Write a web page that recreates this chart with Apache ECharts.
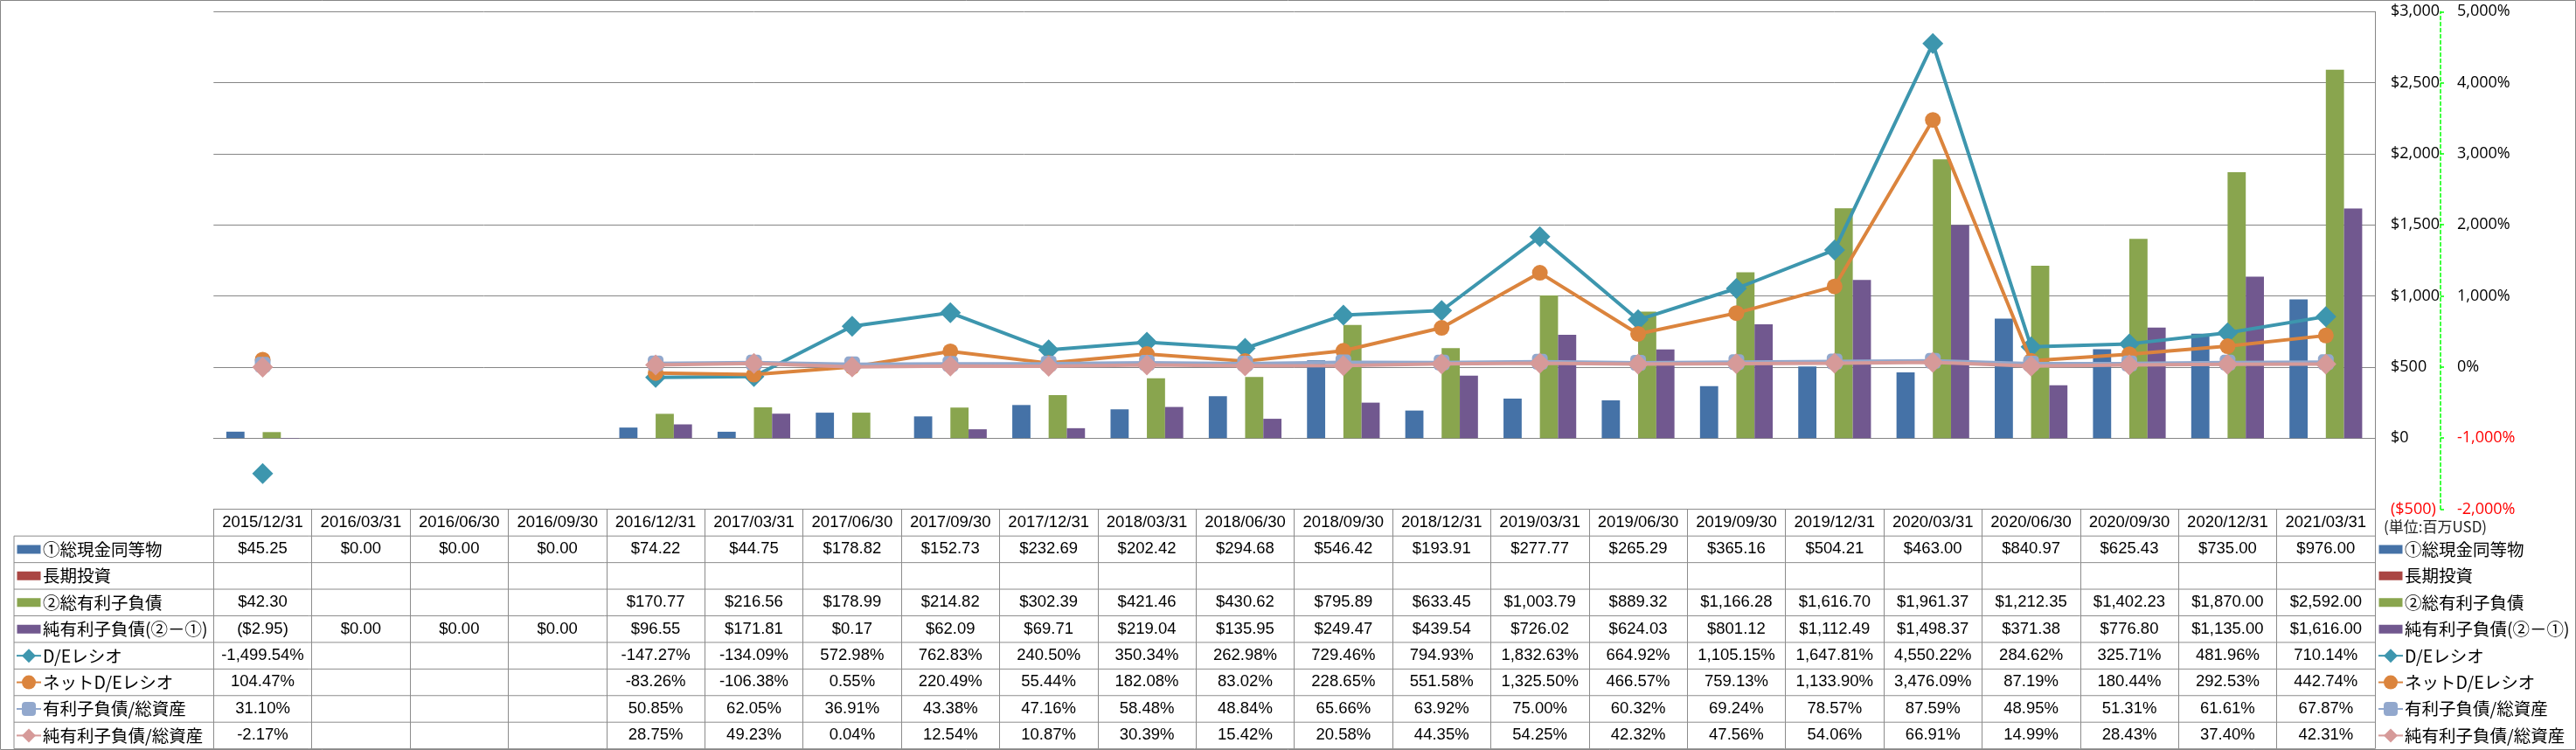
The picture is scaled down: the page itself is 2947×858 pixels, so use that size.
<!DOCTYPE html>
<html><head><meta charset="utf-8">
<script src="https://cdn.jsdelivr.net/npm/echarts@6/dist/echarts.min.js"></script>
<style>html,body{margin:0;padding:0;background:#fff}#c{width:2947px;height:858px}</style>
</head><body><div id="c"></div>
<script>
// ---------- DATA ----------
const categories = ['2015/12/31','2016/03/31','2016/06/30','2016/09/30','2016/12/31','2017/03/31','2017/06/30','2017/09/30','2017/12/31','2018/03/31','2018/06/30','2018/09/30','2018/12/31','2019/03/31','2019/06/30','2019/09/30','2019/12/31','2020/03/31','2020/06/30','2020/09/30','2020/12/31','2021/03/31'];
const seriesNames = ['①総現金同等物','長期投資','②総有利子負債','純有利子負債(②－①)','D/Eレシオ','ネットD/Eレシオ','有利子負債/総資産','純有利子負債/総資産'];
const cash = [45.25,0,0,0,74.22,44.75,178.82,152.73,232.69,202.42,294.68,546.42,193.91,277.77,265.29,365.16,504.21,463.00,840.97,625.43,735.00,976.00];
const longInvest = [null,null,null,null,null,null,null,null,null,null,null,null,null,null,null,null,null,null,null,null,null,null];
const debt = [42.30,null,null,null,170.77,216.56,178.99,214.82,302.39,421.46,430.62,795.89,633.45,1003.79,889.32,1166.28,1616.70,1961.37,1212.35,1402.23,1870.00,2592.00];
const netDebt = [-2.95,0,0,0,96.55,171.81,0.17,62.09,69.71,219.04,135.95,249.47,439.54,726.02,624.03,801.12,1112.49,1498.37,371.38,776.80,1135.00,1616.00];
const deRatio = [-1499.54,null,null,null,-147.27,-134.09,572.98,762.83,240.50,350.34,262.98,729.46,794.93,1832.63,664.92,1105.15,1647.81,4550.22,284.62,325.71,481.96,710.14];
const netDeRatio = [104.47,null,null,null,-83.26,-106.38,0.55,220.49,55.44,182.08,83.02,228.65,551.58,1325.50,466.57,759.13,1133.90,3476.09,87.19,180.44,292.53,442.74];
const debtToAssets = [31.10,null,null,null,50.85,62.05,36.91,43.38,47.16,58.48,48.84,65.66,63.92,75.00,60.32,69.24,78.57,87.59,48.95,51.31,61.61,67.87];
const netDebtToAssets = [-2.17,null,null,null,28.75,49.23,0.04,12.54,10.87,30.39,15.42,20.58,44.35,54.25,42.32,47.56,54.06,66.91,14.99,28.43,37.40,42.31];
const moneyAxis = {min:-500, max:3000, interval:500};
const pctAxis = {min:-2000, max:5000, interval:1000};
const unitLabel = '(単位:百万USD)';

// ---------- LAYOUT / STYLE ----------
const W = 2947, H = 858;
const PLOT_L = 244.3, PLOT_R = 2717, PLOT_T = 13.3, PLOT_B = 582.5;
const ROW_TOP = 613.2, ROW_H = 30.43, NROWS = 8, TABLE_L = 16;
const GRIDC = '#868686', TABLEC = '#8c8c8c';
const colors = ['#4572A7','#AA4643','#89A54E','#71588F','#3D96AE','#DB843D','#92A8CD','#D69A99'];
const CJK = '"Noto Sans CJK JP", "Noto Sans", sans-serif';
const AXF = '"Open Sans", "Noto Sans", sans-serif';
const TBF = '"Liberation Sans", Arial, sans-serif';

function addCommas(s){ return s.replace(/\B(?=(\d{3})+(?!\d))/g, ','); }
function fmt2(v){ const a = Math.abs(v).toFixed(2).split('.'); return addCommas(a[0]) + '.' + a[1]; }
function fmtMoney(v){ if (v == null) return ' '; const s = '$' + fmt2(v); return v < 0 ? '(' + s + ')' : s; }
function fmtPct(v){ if (v == null) return ' '; return (v < 0 ? '-' : '') + fmt2(v) + '%'; }

const tableRows = [
  [cash, fmtMoney],[longInvest, fmtMoney],[debt, fmtMoney],[netDebt, fmtMoney],
  [deRatio, fmtPct],[netDeRatio, fmtPct],[debtToAssets, fmtPct],[netDebtToAssets, fmtPct]
];

const barArrays = [cash, longInvest, debt, netDebt];
const lineArrays = [deRatio, netDeRatio, debtToAssets, netDebtToAssets];
const lineSymbols = ['diamond','circle','roundRect','diamond'];
const lineSymbolSizes = [24,18,18,24];

const series = [];
barArrays.forEach((arr, i) => {
  series.push({
    name: seriesNames[i], type: 'bar', xAxisIndex: 0, yAxisIndex: 0,
    data: arr, barGap: '0%', barCategoryGap: '26%',
    itemStyle: {color: colors[i]}, z: 2
  });
});
lineArrays.forEach((arr, j) => {
  const i = j + 4;
  series.push({
    name: seriesNames[i], type: 'line', xAxisIndex: 0, yAxisIndex: 1,
    data: arr, connectNulls: false, showAllSymbol: true,
    symbol: lineSymbols[j], symbolSize: lineSymbolSizes[j],
    lineStyle: {color: colors[i], width: 4},
    itemStyle: {color: colors[i]}, z: 3 + j
  });
});

const barIcon = 'path://M0,0h0.01M0,20h0.01M0,5h27v10h-27z';
const legendData = seriesNames.map((n, i) => i < 4 ? {name: n, icon: barIcon} : {name: n});
function legendAt(left){
  return {
    orient: 'vertical', left: left, top: ROW_TOP + (ROW_H - 20) / 2, padding: 0,
    itemWidth: 28, itemHeight: 20, itemGap: ROW_H - 20, selectedMode: false,
    textStyle: {fontFamily: CJK, fontSize: 19.5, lineHeight: 20, color: '#000', padding: [0, 0, 0, -3]},
    data: legendData
  };
}

const graphics = [
  {type:'rect', shape:{x:0.5, y:0.5, width:W-1, height:H-1}, style:{fill:'none', stroke:GRIDC, lineWidth:1}, silent:true}
];
for (let k = 0; k <= NROWS; k++) {
  const y = ROW_TOP + k * ROW_H;
  graphics.push({type:'line', shape:{x1:TABLE_L, y1:y, x2:PLOT_R, y2:y}, style:{stroke:TABLEC, lineWidth:1}, silent:true});
}
graphics.push({type:'line', shape:{x1:TABLE_L, y1:ROW_TOP, x2:TABLE_L, y2:ROW_TOP + NROWS*ROW_H}, style:{stroke:TABLEC, lineWidth:1}, silent:true});

const option = {
  animation: false,
  backgroundColor: '#fff',
  title: {text: unitLabel, left: 2727, top: 594, padding: 0,
    textStyle: {fontFamily: CJK, fontSize: 17, fontWeight: 'normal', color: '#222'}},
  grid: {left: PLOT_L, top: PLOT_T, width: PLOT_R - PLOT_L, height: PLOT_B - PLOT_T, containLabel: false},
  legend: [legendAt(18), legendAt(2720)],
  xAxis: [
    {type: 'category', data: categories, position: 'bottom', boundaryGap: true,
     axisLine: {show: true, onZero: true, onZeroAxisIndex: 0, lineStyle: {color: GRIDC, width: 1}},
     axisTick: {show: false}, axisLabel: {show: false}, splitLine: {show: false}},
    {type: 'category', data: categories, position: 'bottom', boundaryGap: true,
     axisLine: {show: true, onZero: false, lineStyle: {color: TABLEC, width: 1}},
     axisTick: {show: true, interval: 0, inside: false, alignWithLabel: false, length: ROW_TOP + NROWS*ROW_H - PLOT_B, lineStyle: {color: TABLEC, width: 1}},
     axisLabel: {show: true, interval: 0, margin: 0, hideOverlap: false,
       fontFamily: TBF, fontSize: 18.5, lineHeight: ROW_H, color: '#000', align: 'center',
       formatter: function (value, idx) {
         const lines = [value];
         tableRows.forEach(r => lines.push(r[1](r[0][idx])));
         return lines.join('\n');
       }},
     splitLine: {show: false}}
  ],
  yAxis: [
    {type: 'value', position: 'right', min: moneyAxis.min, max: moneyAxis.max, interval: moneyAxis.interval,
     axisLine: {show: true, lineStyle: {color: GRIDC, width: 1}},
     axisTick: {show: false},
     splitLine: {show: true, lineStyle: {color: GRIDC, width: 1}},
     axisLabel: {margin: 18, fontFamily: AXF, fontSize: 18, align: 'left',
       color: v => Number(v) < 0 ? '#FF0000' : '#000',
       formatter: v => { const s = '$' + addCommas(String(Math.abs(v))); return v < 0 ? '(' + s + ')' : s; }}},
    {type: 'value', position: 'right', offset: 75, min: pctAxis.min, max: pctAxis.max, interval: pctAxis.interval,
     axisLine: {show: true, lineStyle: {color: '#00FF00', width: 1.5, type: [4, 3]}},
     axisTick: {show: true, length: 4, lineStyle: {color: '#00FF00', width: 1.5}},
     splitLine: {show: false},
     axisLabel: {margin: 19, fontFamily: AXF, fontSize: 18, align: 'left',
       color: v => Number(v) < 0 ? '#FF0000' : '#000',
       formatter: v => (v < 0 ? '-' : '') + addCommas(String(Math.abs(v))) + '%'}}
  ],
  graphic: graphics,
  series: series
};

const chart = echarts.init(document.getElementById('c'), null, {renderer: 'canvas', width: W, height: H});
chart.setOption(option);
</script>
</body></html>
